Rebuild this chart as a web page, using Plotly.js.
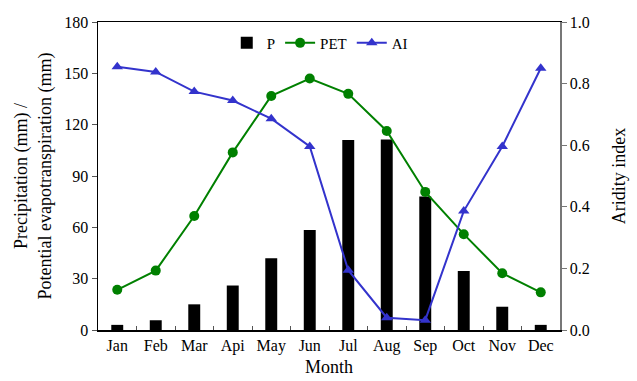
<!DOCTYPE html>
<html>
<head>
<meta charset="utf-8">
<script src="https://cdn.plot.ly/plotly-3.0.1.min.js"></script>
<style>html,body{margin:0;padding:0;background:#fff;}#chart{width:637px;height:381px;}</style>
</head>
<body>
<div id="chart"></div>
<script>
// Monthly climate data
const months = ['Jan','Feb','Mar','Api','May','Jun','Jul','Aug','Sep','Oct','Nov','Dec'];
const precipitation = [3, 5.7, 15, 26, 42, 58.5, 111, 111.3, 78, 34.5, 13.6, 3];
const pet = [23.5, 34.7, 66.6, 103.8, 136.8, 147, 138, 116.3, 80.7, 56, 33.2, 22];
const aridity = [0.855, 0.838, 0.774, 0.745, 0.686, 0.596, 0.194, 0.04, 0.032, 0.386, 0.596, 0.85];

const serif = '"Liberation Serif", "Times New Roman", serif';
const font = {family: serif, size: 16, color: '#000'};
const titleFont = {family: serif, size: 18, color: '#000'};

const traces = [
  {type: 'bar', name: 'P', x: months, y: precipitation, width: 0.31,
   marker: {color: '#000'}},
  {type: 'scatter', mode: 'lines+markers', name: 'PET', x: months, y: pet,
   line: {color: '#008000', width: 2}, marker: {color: '#008000', size: 10, symbol: 'circle'}},
  {type: 'scatter', mode: 'lines+markers', name: 'AI', x: months, y: aridity, yaxis: 'y2',
   line: {color: '#3333cc', width: 2}, marker: {color: '#3333cc', size: 10, symbol: 'triangle-up'}}
];

const layout = {
  width: 637, height: 381,
  margin: {l: 98, r: 77, t: 22, b: 51},
  paper_bgcolor: '#fff', plot_bgcolor: '#fff',
  font: font,
  showlegend: true,
  legend: {orientation: 'h', x: 0.48, xanchor: 'center', y: 0.985, yanchor: 'top',
           bgcolor: 'rgba(0,0,0,0)', font: {family: serif, size: 15, color: '#000'},
           itemwidth: 30, tracegroupgap: 0},
  xaxis: {type: 'category', range: [-0.5, 11.5], showline: true, linecolor: '#000', linewidth: 1.5,
          mirror: true, ticks: 'inside', tickson: 'boundaries', ticklen: 4, tickcolor: '#555',
          showgrid: false, zeroline: false, tickfont: font,
          title: {text: 'Month', font: titleFont, standoff: 6}},
  yaxis: {range: [0, 180], dtick: 30, showline: true, linecolor: '#000', linewidth: 1.5,
          ticks: 'outside', ticklen: 5, tickcolor: '#555', showgrid: false, zeroline: false,
          tickfont: font,
          title: {text: 'Precipitation (mm) /<br>Potential evapotranspiration (mm)',
                  font: titleFont, standoff: 8}},
  yaxis2: {overlaying: 'y', side: 'right', range: [0, 1], dtick: 0.2, tickformat: '.1f',
           showline: true, linecolor: '#777', linewidth: 1.5, ticks: 'outside', ticklen: 5,
           tickcolor: '#777', showgrid: false, zeroline: false, tickfont: font,
           title: {text: 'Aridity index', font: titleFont, standoff: 23}}
};

Plotly.newPlot('chart', traces, layout, {displayModeBar: false, staticPlot: true});
</script>
</body>
</html>
